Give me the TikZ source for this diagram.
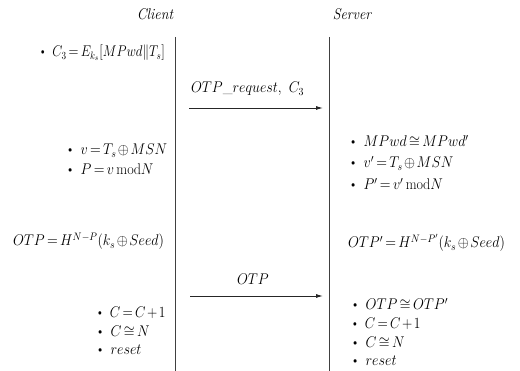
\RequirePackage{fix-cm}
\documentclass[tikz,border=0pt]{standalone}
\usepackage{fontspec}
\usepackage{amsmath}
\usepackage{graphicx}
\usetikzlibrary{arrows.meta}
% tighter spacing around relations and binary operators
\thickmuskip=3mu plus 1mu
\medmuskip=2mu plus 1mu
\newcommand{\bul}{\textbullet\hspace{6pt}}
% slightly condensed lettering
\newcommand{\cnd}[2][0.91]{\scalebox{#1}[1]{#2}}
\begin{document}
\begin{tikzpicture}[x=1pt,y=-1pt,
  every node/.style={inner sep=0pt,outer sep=0pt,font=\fontsize{15.5}{18}\selectfont},
  txt/.style={anchor=base west},
  hdr/.style={anchor=base,font=\fontsize{15.5}{18}\selectfont\itshape},
  lifeline/.style={draw=black!75,line width=0.9pt},
  msg/.style={draw=black!85,line width=0.9pt,-{Latex[length=7pt,width=4pt]}}]
\useasboundingbox (0,0) rectangle (520,371);

% headers
\node[hdr] (client) at (155,20) {\cnd{Client}};
\node[hdr] (server) at (352,20) {\cnd{Server}};

% lifelines
\coordinate (ctop) at (175,37);
\coordinate (cbot) at (175,371);
\coordinate (stop) at (329,37);
\coordinate (sbot) at (329,371);
\draw[lifeline] (ctop) -- (cbot);
\draw[lifeline] (stop) -- (sbot);

% messages
\coordinate (m1a) at (189,108);
\coordinate (m1b) at (323,108);
\draw[msg] (m1a) -- (m1b);
\node[txt] (m1lbl) at (191,93) {\cnd{$OTP\_request,\;\; C_3$}};

\coordinate (m2a) at (190,296);
\coordinate (m2b) at (323,296);
\draw[msg] (m2a) -- (m2b);
\node[txt] (m2lbl) at (237,285) {\cnd{$OTP$}};

% client side
\node[txt] (c1) at (38,57)  {\cnd[0.84]{\bul$C_3 = E_{k_s}[MPwd\|T_s]$}};
\node[txt] (c2) at (65,155) {\cnd{\bul$v = T_s \oplus MSN$}};
\node[txt] (c3) at (65,175) {\cnd{\bul$P = v\,\mathrm{mod}N$}};
\node[txt] (c4) at (13,246) {\cnd{$OTP = H^{N-P}(k_s \oplus Seed)$}};
\node[txt] (c5) at (95,318) {\cnd[0.87]{\bul$C = C+1$}};
\node[txt] (c6) at (95,337) {\cnd{\bul$C \cong N$}};
\node[txt] (c7) at (95,355) {\cnd{\bul$reset$}};

% server side
\node[txt] (s1) at (348,147) {\cnd{\bul$MPwd \cong MPwd'$}};
\node[txt] (s2) at (348,168) {\cnd{\bul$v' = T_s \oplus MSN$}};
\node[txt] (s3) at (348,190) {\cnd{\bul$P' = v'\,\mathrm{mod}N$}};
\node[txt] (s4) at (348,248) {\cnd{$OTP' = H^{N-P'}(k_s \oplus Seed)$}};
\node[txt] (s5) at (350,310) {\cnd{\bul$OTP \cong OTP'$}};
\node[txt] (s6) at (350,329) {\cnd[0.87]{\bul$C = C+1$}};
\node[txt] (s7) at (350,348) {\cnd{\bul$C \cong N$}};
\node[txt] (s8) at (350,366) {\cnd{\bul$reset$}};
\end{tikzpicture}
\end{document}
